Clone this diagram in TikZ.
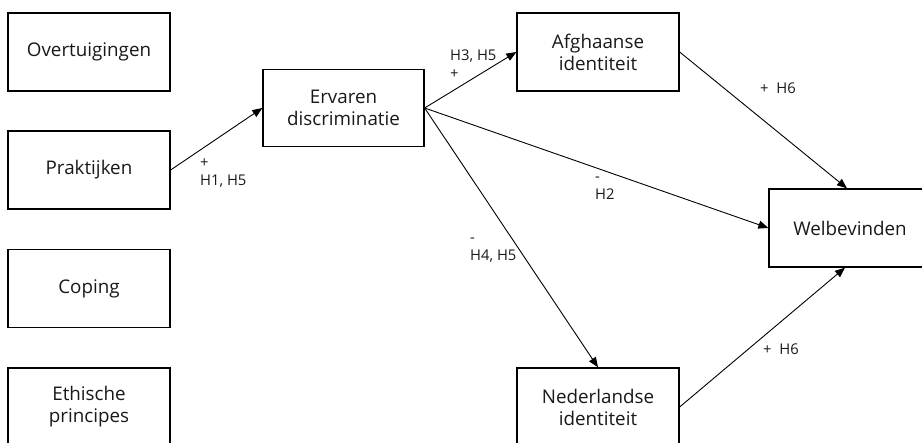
\documentclass[tikz,border=0pt]{standalone}
\usepackage{fontspec}
\setmainfont{Open Sans}
\usetikzlibrary{arrows.meta}
\begin{document}
\begin{tikzpicture}[x=1pt,y=-1pt,
  box/.style={draw=black,line width=1.3pt,minimum width=162pt,minimum height=78pt,
    inner sep=0pt,align=center,font=\fontsize{18.8}{22}\selectfont,text=black!90},
  lab/.style={inner sep=0pt,align=left,anchor=base west,
    font=\fontsize{14.8}{18}\selectfont,text=black!90},
  conn/.style={line width=0.9pt,-{Triangle[length=10pt,width=8pt]}}]
\useasboundingbox[fill=white] (0,0) rectangle (922,443);
\node[box] (ov) at (89,52) {Overtuigingen};
\node[box] (pr) at (89,170) {Praktijken};
\node[box] (co) at (89,288.5) {Coping};
\node[box] (et) at (89,407) {Ethische\\principes};
\node[box,minimum width=161pt,minimum height=77pt] (er) at (343.5,108) {Ervaren\\discriminatie};
\node[box] (af) at (598,52) {Afghaanse\\identiteit};
\node[box] (we) at (850,228) {Welbevinden};
\node[box] (ne) at (598,407) {Nederlandse\\identiteit};
\draw[conn] (pr.east) -- (er.west);
\draw[conn] (er.east) -- (af.west);
\draw[conn] (er.east) -- (we.west);
\draw[conn] (er.east) -- (ne.north);
\draw[conn] (af.east) -- ([xshift=-3pt]we.north);
\draw[conn] (ne.east) -- ([xshift=-5pt]we.south);
\node[lab] (l1) at (200,186) {+\\H1, H5};
\node[lab] (l2) at (450,79) {H3, H5\\+};
\node[lab] (l3) at (595,200) {-\\H2};
\node[lab] (l4) at (470,261) {-\\H4, H5};
\node[lab] (l5) at (760,94) {+\ \ H6};
\node[lab] (l6) at (763,355) {+\ \ H6};
\end{tikzpicture}
\end{document}
